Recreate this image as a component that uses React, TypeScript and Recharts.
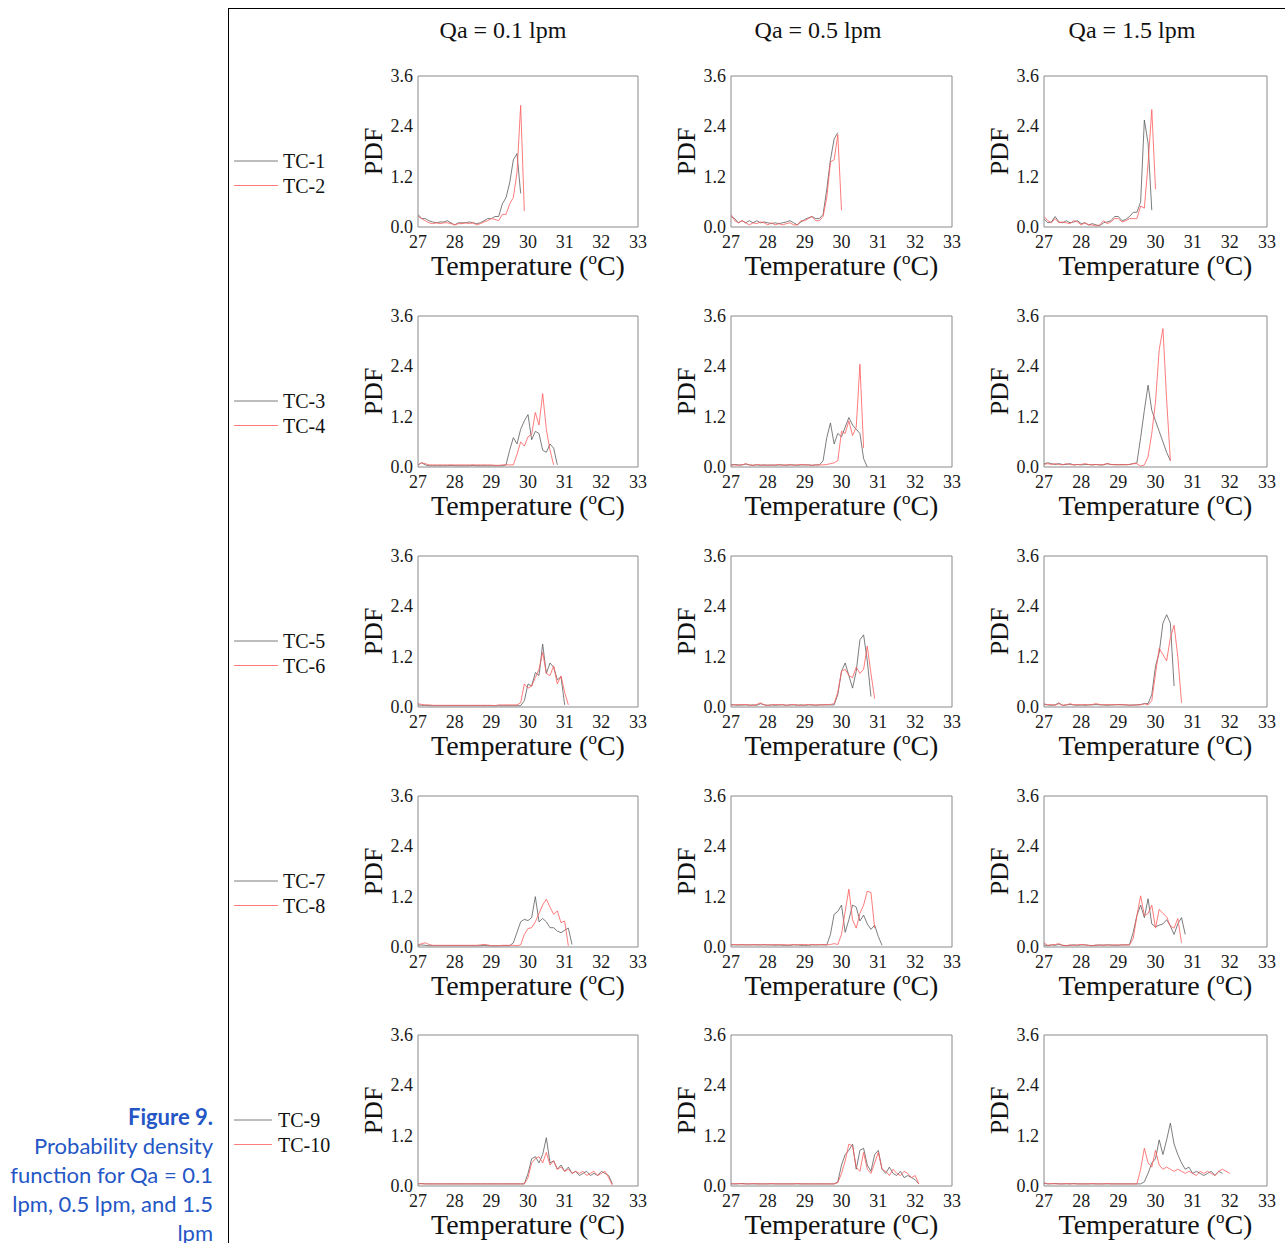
import React from 'react';
import { LineChart, Line, XAxis, YAxis, Label } from 'recharts';

// temperature grid shared by every curve (°C)
const TEMPS = [
  27.0, 27.1, 27.2, 27.3, 27.4, 27.5, 27.6, 27.7, 27.8, 27.9,
  28.0, 28.1, 28.2, 28.3, 28.4, 28.5, 28.6, 28.7, 28.8, 28.9,
  29.0, 29.1, 29.2, 29.3, 29.4, 29.5, 29.6, 29.7, 29.8, 29.9,
  30.0, 30.1, 30.2, 30.3, 30.4, 30.5, 30.6, 30.7, 30.8, 30.9,
  31.0, 31.1, 31.2, 31.3, 31.4, 31.5, 31.6, 31.7, 31.8, 31.9,
  32.0, 32.1, 32.2, 32.3, 32.4,
];

const X_TICKS = [27, 28, 29, 30, 31, 32, 33];
const X_MINOR = [27, 27.5, 28, 28.5, 29, 29.5, 30, 30.5, 31, 31.5, 32, 32.5, 33];
const Y_TICKS = [0, 1.2, 2.4, 3.6];
const Y_MINOR = [0, 0.6, 1.2, 1.8, 2.4, 3.0, 3.6];

const FLOW_TITLES = ['Qa = 0.1 lpm', 'Qa = 0.5 lpm', 'Qa = 1.5 lpm'];
const PAIR_NAMES = [
  ['TC-1', 'TC-2'],
  ['TC-3', 'TC-4'],
  ['TC-5', 'TC-6'],
  ['TC-7', 'TC-8'],
  ['TC-9', 'TC-10'],
];

// PDF values, one entry per TEMPS step starting at 27.0
const TC1_Q01 = [
  0.30, 0.20, 0.20, 0.15, 0.12, 0.10, 0.12, 0.12, 0.15, 0.10,
  0.05, 0.10, 0.10, 0.10, 0.12, 0.10, 0.08, 0.10, 0.15, 0.20,
  0.20, 0.25, 0.25, 0.55, 0.70, 1.05, 1.60, 1.75, 0.80,
];
const TC2_Q01 = [
  0.25, 0.20, 0.15, 0.10, 0.08, 0.10, 0.08, 0.10, 0.10, 0.08,
  0.05, 0.08, 0.08, 0.10, 0.08, 0.10, 0.05, 0.08, 0.12, 0.15,
  0.20, 0.18, 0.15, 0.30, 0.30, 0.55, 0.70, 1.30, 2.90, 0.38,
];
const TC1_Q05 = [
  0.25, 0.20, 0.10, 0.15, 0.10, 0.15, 0.10, 0.15, 0.10, 0.12,
  0.10, 0.08, 0.10, 0.08, 0.10, 0.12, 0.15, 0.10, 0.05, 0.12,
  0.18, 0.22, 0.25, 0.20, 0.20, 0.30, 0.90, 1.60, 2.10, 2.25,
];
const TC2_Q05 = [
  0.30, 0.15, 0.10, 0.15, 0.10, 0.05, 0.10, 0.08, 0.12, 0.10,
  0.05, 0.10, 0.05, 0.08, 0.05, 0.08, 0.10, 0.05, 0.05, 0.15,
  0.15, 0.20, 0.25, 0.15, 0.15, 0.25, 0.70, 1.55, 1.60, 2.20,
  0.40,
];
const TC1_Q15 = [
  0.20, 0.10, 0.12, 0.25, 0.12, 0.10, 0.15, 0.10, 0.12, 0.15,
  0.08, 0.10, 0.05, 0.08, 0.05, 0.03, 0.10, 0.12, 0.15, 0.25,
  0.25, 0.15, 0.18, 0.25, 0.35, 0.35, 0.60, 2.55, 2.00, 0.40,
];
const TC2_Q15 = [
  0.25, 0.15, 0.10, 0.20, 0.10, 0.12, 0.10, 0.08, 0.15, 0.12,
  0.05, 0.10, 0.05, 0.05, 0.02, 0.05, 0.15, 0.08, 0.12, 0.20,
  0.20, 0.12, 0.15, 0.20, 0.20, 0.20, 0.50, 0.45, 1.50, 2.80,
  0.90,
];

const TC3_Q01 = [
  0.05, 0.10, 0.05, 0.03, 0.03, 0.03, 0.03, 0.03, 0.03, 0.04,
  0.03, 0.03, 0.03, 0.03, 0.03, 0.04, 0.03, 0.03, 0.03, 0.03,
  0.03, 0.03, 0.03, 0.03, 0.05, 0.40, 0.70, 0.55, 0.90, 1.10,
  1.25, 0.65, 0.85, 0.80, 0.40, 0.35, 0.55, 0.45, 0.05,
];
const TC4_Q01 = [
  0.05, 0.10, 0.08, 0.05, 0.05, 0.05, 0.05, 0.05, 0.05, 0.05,
  0.05, 0.05, 0.05, 0.05, 0.05, 0.05, 0.05, 0.05, 0.05, 0.05,
  0.05, 0.04, 0.04, 0.05, 0.05, 0.05, 0.05, 0.30, 0.60, 0.50,
  0.72, 0.78, 1.30, 1.00, 1.75, 0.90, 0.40, 0.05,
];
const TC3_Q05 = [
  0.05, 0.06, 0.05, 0.05, 0.07, 0.05, 0.04, 0.05, 0.04, 0.05,
  0.04, 0.05, 0.04, 0.05, 0.05, 0.04, 0.05, 0.05, 0.04, 0.05,
  0.05, 0.05, 0.04, 0.05, 0.05, 0.15, 0.70, 1.05, 0.55, 0.80,
  0.72, 0.95, 1.18, 1.00, 0.90, 0.80, 0.20, 0.00,
];
const TC4_Q05 = [
  0.04, 0.05, 0.04, 0.05, 0.08, 0.05, 0.04, 0.06, 0.05, 0.04,
  0.05, 0.04, 0.05, 0.06, 0.04, 0.05, 0.06, 0.04, 0.05, 0.06,
  0.05, 0.05, 0.04, 0.05, 0.05, 0.05, 0.06, 0.08, 0.10, 0.15,
  0.85, 0.80, 1.10, 0.75, 0.95, 2.45, 0.45,
];
const TC3_Q15 = [
  0.08, 0.10, 0.08, 0.06, 0.08, 0.06, 0.06, 0.08, 0.05, 0.06,
  0.05, 0.06, 0.06, 0.05, 0.06, 0.05, 0.05, 0.08, 0.06, 0.06,
  0.05, 0.06, 0.05, 0.06, 0.08, 0.10, 0.70, 1.35, 1.95, 1.35,
  1.10, 0.85, 0.60, 0.35, 0.15,
];
const TC4_Q15 = [
  0.06, 0.08, 0.06, 0.08, 0.06, 0.05, 0.08, 0.06, 0.05, 0.06,
  0.06, 0.08, 0.06, 0.05, 0.06, 0.05, 0.06, 0.08, 0.06, 0.05,
  0.06, 0.05, 0.06, 0.06, 0.08, 0.08, 0.02, 0.05, 0.25, 0.80,
  1.55, 2.80, 3.30, 1.60, 0.15,
];

const TC5_Q01 = [
  0.05, 0.04, 0.04, 0.03, 0.03, 0.03, 0.03, 0.03, 0.03, 0.03,
  0.03, 0.03, 0.03, 0.03, 0.03, 0.03, 0.03, 0.03, 0.03, 0.03,
  0.03, 0.03, 0.03, 0.03, 0.03, 0.03, 0.03, 0.03, 0.03, 0.15,
  0.55, 0.50, 0.82, 0.75, 1.50, 0.80, 1.05, 0.95, 0.65, 0.72,
  0.05,
];
const TC6_Q01 = [
  0.08, 0.06, 0.05, 0.05, 0.04, 0.04, 0.04, 0.04, 0.04, 0.04,
  0.04, 0.04, 0.04, 0.04, 0.04, 0.04, 0.04, 0.04, 0.04, 0.04,
  0.04, 0.03, 0.05, 0.05, 0.05, 0.05, 0.05, 0.05, 0.10, 0.55,
  0.45, 0.50, 0.70, 0.90, 1.30, 0.80, 0.75, 0.98, 0.55, 0.74,
  0.35, 0.05,
];
const TC5_Q05 = [
  0.05, 0.05, 0.04, 0.05, 0.05, 0.04, 0.05, 0.04, 0.08, 0.05,
  0.04, 0.05, 0.04, 0.05, 0.05, 0.04, 0.05, 0.05, 0.04, 0.05,
  0.04, 0.05, 0.05, 0.04, 0.05, 0.05, 0.05, 0.05, 0.05, 0.30,
  0.85, 1.05, 0.75, 0.45, 0.85, 1.60, 1.72, 1.10, 0.25,
];
const TC6_Q05 = [
  0.06, 0.05, 0.06, 0.05, 0.06, 0.05, 0.04, 0.06, 0.10, 0.05,
  0.04, 0.05, 0.06, 0.05, 0.06, 0.04, 0.05, 0.06, 0.05, 0.04,
  0.05, 0.06, 0.05, 0.05, 0.05, 0.05, 0.06, 0.06, 0.08, 0.35,
  0.85, 0.90, 0.75, 0.70, 0.95, 0.80, 0.90, 1.45, 0.80, 0.20,
];
const TC5_Q15 = [
  0.06, 0.05, 0.04, 0.05, 0.10, 0.04, 0.05, 0.06, 0.05, 0.04,
  0.05, 0.04, 0.05, 0.05, 0.06, 0.05, 0.05, 0.04, 0.05, 0.05,
  0.06, 0.05, 0.05, 0.04, 0.05, 0.05, 0.06, 0.08, 0.08, 0.30,
  0.97, 1.30, 2.00, 2.20, 2.00, 0.50,
];
const TC6_Q15 = [
  0.08, 0.05, 0.06, 0.04, 0.08, 0.04, 0.05, 0.08, 0.05, 0.06,
  0.05, 0.06, 0.05, 0.06, 0.08, 0.06, 0.05, 0.06, 0.05, 0.06,
  0.05, 0.06, 0.05, 0.05, 0.04, 0.05, 0.05, 0.08, 0.05, 0.15,
  0.80, 1.40, 1.25, 1.10, 1.65, 1.95, 1.20, 0.10,
];

const TC7_Q01 = [
  0.04, 0.05, 0.04, 0.03, 0.03, 0.03, 0.03, 0.03, 0.03, 0.03,
  0.03, 0.03, 0.03, 0.03, 0.03, 0.03, 0.03, 0.03, 0.04, 0.03,
  0.03, 0.03, 0.03, 0.03, 0.03, 0.03, 0.10, 0.35, 0.60, 0.66,
  0.63, 0.70, 1.20, 0.60, 0.68, 0.60, 0.46, 0.46, 0.38, 0.34,
  0.40, 0.45, 0.06,
];
const TC8_Q01 = [
  0.05, 0.08, 0.10, 0.06, 0.04, 0.04, 0.04, 0.04, 0.04, 0.04,
  0.04, 0.04, 0.04, 0.04, 0.04, 0.04, 0.04, 0.05, 0.06, 0.05,
  0.03, 0.03, 0.03, 0.04, 0.04, 0.04, 0.04, 0.03, 0.05, 0.30,
  0.44, 0.46, 0.60, 0.80, 1.00, 1.14, 0.95, 0.78, 0.86, 0.58,
  0.62, 0.03,
];
const TC7_Q05 = [
  0.05, 0.05, 0.05, 0.05, 0.05, 0.05, 0.05, 0.05, 0.05, 0.05,
  0.05, 0.05, 0.04, 0.05, 0.04, 0.04, 0.04, 0.05, 0.05, 0.04,
  0.04, 0.04, 0.05, 0.05, 0.05, 0.05, 0.05, 0.30, 0.78, 0.85,
  1.00, 0.35, 0.65, 1.00, 0.95, 0.62, 0.76, 0.55, 0.42, 0.52,
  0.25, 0.04,
];
const TC8_Q05 = [
  0.06, 0.06, 0.05, 0.06, 0.05, 0.05, 0.06, 0.05, 0.05, 0.06,
  0.05, 0.05, 0.06, 0.05, 0.06, 0.05, 0.05, 0.06, 0.05, 0.06,
  0.06, 0.05, 0.06, 0.05, 0.06, 0.06, 0.05, 0.06, 0.08, 0.06,
  0.30, 0.85, 1.38, 0.65, 0.45, 0.80, 1.00, 1.33, 1.30, 0.45,
];
const TC7_Q15 = [
  0.05, 0.03, 0.05, 0.04, 0.06, 0.04, 0.03, 0.04, 0.05, 0.04,
  0.05, 0.05, 0.04, 0.03, 0.04, 0.05, 0.04, 0.05, 0.05, 0.04,
  0.04, 0.05, 0.05, 0.05, 0.35, 0.75, 1.00, 0.70, 1.15, 0.55,
  0.48, 0.52, 0.55, 0.65, 0.50, 0.30, 0.55, 0.70, 0.30,
];
const TC8_Q15 = [
  0.10, 0.04, 0.05, 0.06, 0.08, 0.04, 0.03, 0.05, 0.04, 0.05,
  0.06, 0.05, 0.04, 0.03, 0.05, 0.04, 0.05, 0.05, 0.04, 0.05,
  0.05, 0.05, 0.05, 0.05, 0.20, 0.75, 1.22, 0.75, 0.80, 1.00,
  0.45, 0.90, 0.80, 0.72, 0.50, 0.45, 0.68, 0.10,
];

const TC9_Q01 = [
  0.05, 0.06, 0.05, 0.05, 0.05, 0.05, 0.05, 0.05, 0.05, 0.05,
  0.05, 0.05, 0.05, 0.05, 0.05, 0.05, 0.05, 0.05, 0.05, 0.05,
  0.05, 0.05, 0.05, 0.05, 0.05, 0.05, 0.05, 0.05, 0.05, 0.05,
  0.30, 0.65, 0.70, 0.55, 0.75, 1.15, 0.55, 0.60, 0.40, 0.50,
  0.35, 0.45, 0.30, 0.35, 0.25, 0.30, 0.35, 0.25, 0.30, 0.25,
  0.35, 0.30, 0.25, 0.05,
];
const TC10_Q01 = [
  0.06, 0.05, 0.05, 0.05, 0.05, 0.05, 0.05, 0.05, 0.05, 0.05,
  0.05, 0.05, 0.05, 0.05, 0.05, 0.05, 0.05, 0.05, 0.05, 0.05,
  0.05, 0.05, 0.05, 0.05, 0.05, 0.05, 0.05, 0.05, 0.05, 0.05,
  0.20, 0.55, 0.65, 0.70, 0.55, 0.80, 0.50, 0.60, 0.40, 0.45,
  0.35, 0.40, 0.30, 0.35, 0.30, 0.35, 0.25, 0.30, 0.35, 0.25,
  0.30, 0.35, 0.20, 0.02,
];
const TC9_Q05 = [
  0.05, 0.05, 0.05, 0.06, 0.05, 0.05, 0.05, 0.05, 0.05, 0.05,
  0.05, 0.05, 0.05, 0.05, 0.05, 0.05, 0.05, 0.05, 0.05, 0.05,
  0.05, 0.05, 0.05, 0.05, 0.05, 0.05, 0.05, 0.05, 0.05, 0.10,
  0.50, 0.75, 0.85, 1.00, 0.40, 0.85, 0.90, 0.50, 0.35, 0.75,
  0.85, 0.40, 0.30, 0.45, 0.30, 0.25, 0.35, 0.20, 0.25, 0.20,
  0.15, 0.05,
];
const TC10_Q05 = [
  0.06, 0.05, 0.06, 0.05, 0.05, 0.05, 0.06, 0.05, 0.05, 0.05,
  0.05, 0.06, 0.05, 0.05, 0.05, 0.05, 0.05, 0.05, 0.06, 0.05,
  0.05, 0.05, 0.05, 0.05, 0.05, 0.05, 0.05, 0.05, 0.05, 0.08,
  0.30, 0.60, 1.00, 0.95, 0.45, 0.35, 0.80, 0.40, 0.30, 0.55,
  0.80, 0.40, 0.35, 0.25, 0.40, 0.30, 0.25, 0.35, 0.30, 0.20,
  0.25, 0.05,
];
const TC9_Q15 = [
  0.06, 0.05, 0.05, 0.06, 0.05, 0.05, 0.05, 0.05, 0.06, 0.05,
  0.05, 0.05, 0.05, 0.05, 0.05, 0.05, 0.05, 0.05, 0.05, 0.05,
  0.05, 0.05, 0.05, 0.05, 0.05, 0.05, 0.05, 0.10, 0.30, 0.55,
  0.65, 1.10, 0.75, 1.10, 1.50, 1.00, 0.75, 0.55, 0.40, 0.45,
  0.30, 0.35, 0.30, 0.25, 0.30, 0.35, 0.25, 0.35, 0.30,
];
const TC10_Q15 = [
  0.08, 0.05, 0.06, 0.05, 0.05, 0.05, 0.06, 0.05, 0.05, 0.05,
  0.05, 0.05, 0.05, 0.06, 0.05, 0.05, 0.05, 0.06, 0.05, 0.05,
  0.05, 0.05, 0.05, 0.05, 0.05, 0.05, 0.40, 0.90, 0.55, 0.45,
  0.85, 0.50, 0.40, 0.45, 0.40, 0.35, 0.40, 0.35, 0.30, 0.35,
  0.30, 0.25, 0.35, 0.30, 0.35, 0.30, 0.25, 0.35, 0.40, 0.35,
  0.30,
];

// [row][column] -> [odd sensor, even sensor]
const GRID = [
  [[TC1_Q01, TC2_Q01], [TC1_Q05, TC2_Q05], [TC1_Q15, TC2_Q15]],
  [[TC3_Q01, TC4_Q01], [TC3_Q05, TC4_Q05], [TC3_Q15, TC4_Q15]],
  [[TC5_Q01, TC6_Q01], [TC5_Q05, TC6_Q05], [TC5_Q15, TC6_Q15]],
  [[TC7_Q01, TC8_Q01], [TC7_Q05, TC8_Q05], [TC7_Q15, TC8_Q15]],
  [[TC9_Q01, TC10_Q01], [TC9_Q05, TC10_Q05], [TC9_Q15, TC10_Q15]],
];

const SERIF = '"Liberation Serif", "DejaVu Serif", serif';
const ODD_COLOR = '#5c5c5c';
const EVEN_COLOR = '#ff5a5a';
const FRAME = '#8a8a8a';

const COL_LEFT = [418, 731, 1044];
const COL_WIDTH = [220, 221, 223];
const ROW_TOP = [76, 316, 556, 796, 1035];
const PLOT_H = 151;
const Y_AXIS_W = 72;
const X_AXIS_H = 62;
const M_TOP = 10;
const M_RIGHT = 10;

const toPoints = (vals: number[]) => vals.map((v, i) => ({ t: TEMPS[i], pdf: v }));

function XTick(props: any) {
  const { x, y, payload } = props;
  return (
    <text x={x} y={y} dy={16} textAnchor="middle" fontSize={18} fontFamily={SERIF} fill="#1a1a1a">
      {payload.value}
    </text>
  );
}

function YTick(props: any) {
  const { x, y, payload } = props;
  return (
    <text x={x} y={y} dy={6} textAnchor="end" fontSize={18} fontFamily={SERIF} fill="#1a1a1a">
      {Number(payload.value).toFixed(1)}
    </text>
  );
}

function PdfLabel(props: any) {
  const vb = props.viewBox || {};
  const cx = vb.x + vb.width - 45;
  const cy = vb.y + vb.height / 2;
  return (
    <text
      x={cx}
      y={cy}
      transform={`rotate(-90 ${cx} ${cy})`}
      textAnchor="middle"
      dominantBaseline="central"
      fontSize={26}
      fontFamily={SERIF}
      fill="#111"
    >
      PDF
    </text>
  );
}

function TempLabel(props: any) {
  const vb = props.viewBox || {};
  return (
    <text x={vb.x + vb.width / 2} y={vb.y + 48} textAnchor="middle" fontSize={28} fontFamily={SERIF} fill="#111">
      Temperature (
      <tspan dy={-11} fontSize={17}>o</tspan>
      <tspan dy={11}>C)</tspan>
    </text>
  );
}

function Panel({ odd, even, row, col }: { odd: number[]; even: number[]; row: number; col: number }) {
  const w = COL_WIDTH[col];
  return (
    <div
      style={{
        position: 'absolute',
        left: COL_LEFT[col] - Y_AXIS_W,
        top: ROW_TOP[row] - M_TOP,
        fontFamily: SERIF,
      }}
    >
      <LineChart
        width={Y_AXIS_W + w + M_RIGHT}
        height={M_TOP + PLOT_H + X_AXIS_H}
        margin={{ top: M_TOP, right: M_RIGHT, bottom: 0, left: 0 }}
      >
        <XAxis
          xAxisId="temp"
          dataKey="t"
          type="number"
          domain={[27, 33]}
          allowDataOverflow
          ticks={X_TICKS}
          tickLine={false}
          axisLine={false}
          tickSize={0}
          tickMargin={5}
          height={X_AXIS_H}
          tick={<XTick />}
          interval={0}
        >
          <Label content={TempLabel} />
        </XAxis>
        <XAxis
          xAxisId="bottomTicks"
          type="number"
          domain={[27, 33]}
          allowDataOverflow
          ticks={X_MINOR}
          mirror
          height={1}
          tick={false}
          tickSize={3}
          stroke={FRAME}
          interval={0}
        />
        <XAxis
          xAxisId="topTicks"
          orientation="top"
          type="number"
          domain={[27, 33]}
          allowDataOverflow
          ticks={X_MINOR}
          mirror
          height={1}
          tick={false}
          tickSize={3}
          stroke={FRAME}
          interval={0}
        />
        <YAxis
          yAxisId="pdf"
          type="number"
          domain={[0, 3.6]}
          allowDataOverflow
          ticks={Y_TICKS}
          tickLine={false}
          axisLine={false}
          tickSize={0}
          tickMargin={5}
          width={Y_AXIS_W}
          tick={<YTick />}
          interval={0}
        >
          <Label content={PdfLabel} />
        </YAxis>
        <YAxis
          yAxisId="leftTicks"
          type="number"
          domain={[0, 3.6]}
          allowDataOverflow
          ticks={Y_MINOR}
          mirror
          width={1}
          tick={false}
          tickSize={3}
          stroke={FRAME}
          interval={0}
        />
        <YAxis
          yAxisId="rightTicks"
          orientation="right"
          type="number"
          domain={[0, 3.6]}
          allowDataOverflow
          ticks={Y_MINOR}
          mirror
          width={1}
          tick={false}
          tickSize={3}
          stroke={FRAME}
          interval={0}
        />
        <Line
          xAxisId="temp"
          yAxisId="pdf"
          data={toPoints(odd)}
          dataKey="pdf"
          type="linear"
          stroke={ODD_COLOR}
          strokeWidth={0.8}
          dot={false}
          activeDot={false}
          isAnimationActive={false}
        />
        <Line
          xAxisId="temp"
          yAxisId="pdf"
          data={toPoints(even)}
          dataKey="pdf"
          type="linear"
          stroke={EVEN_COLOR}
          strokeWidth={0.8}
          dot={false}
          activeDot={false}
          isAnimationActive={false}
        />
      </LineChart>
    </div>
  );
}

const TITLE_X = [503, 818, 1132];
const CAPTION = ['Probability density', 'function for Qa = 0.1', 'lpm, 0.5 lpm, and 1.5', 'lpm'];

export default function App() {
  return (
    <div style={{ position: 'absolute', left: 0, top: 0, width: 1285, height: 1243, background: '#fff', overflow: 'hidden' }}>
      <svg width={1285} height={1243} style={{ position: 'absolute', left: 0, top: 0 }}>
        <line x1={228.5} y1={8} x2={228.5} y2={1243} stroke="#000" strokeWidth={1} />
        <line x1={228} y1={8.5} x2={1285} y2={8.5} stroke="#000" strokeWidth={1} />
        {FLOW_TITLES.map((t, i) => (
          <text key={t} x={TITLE_X[i]} y={38} textAnchor="middle" fontSize={24} fontFamily={SERIF} fill="#111">
            {t}
          </text>
        ))}
        {PAIR_NAMES.map((pair, r) => {
          const last = r === PAIR_NAMES.length - 1;
          const lineEnd = last ? 272 : 278;
          const textX = last ? 278 : 283;
          return pair.map((name, k) => {
            const y = ROW_TOP[r] + 85 + k * 24.5;
            return (
              <g key={name}>
                <line x1={234} y1={y} x2={lineEnd} y2={y} stroke={k === 0 ? ODD_COLOR : EVEN_COLOR} strokeWidth={0.8} />
                <text x={textX} y={y} dominantBaseline="central" fontSize={20} fontFamily={SERIF} fill="#111">
                  {name}
                </text>
              </g>
            );
          });
        })}
      </svg>
      <div
        style={{
          position: 'absolute',
          left: 0,
          top: 1102,
          width: 213,
          textAlign: 'right',
          fontFamily: 'Lato, "Open Sans", sans-serif',
          fontSize: 22,
          lineHeight: '29px',
          color: '#2456c6',
        }}
      >
        <div style={{ fontWeight: 700 }}>Figure 9.</div>
        {CAPTION.map((line) => (
          <div key={line}>{line}</div>
        ))}
      </div>
      {GRID.map((row, r) =>
        row.map(([odd, even], c) => <Panel key={`${r}-${c}`} odd={odd} even={even} row={r} col={c} />),
      )}
    </div>
  );
}
